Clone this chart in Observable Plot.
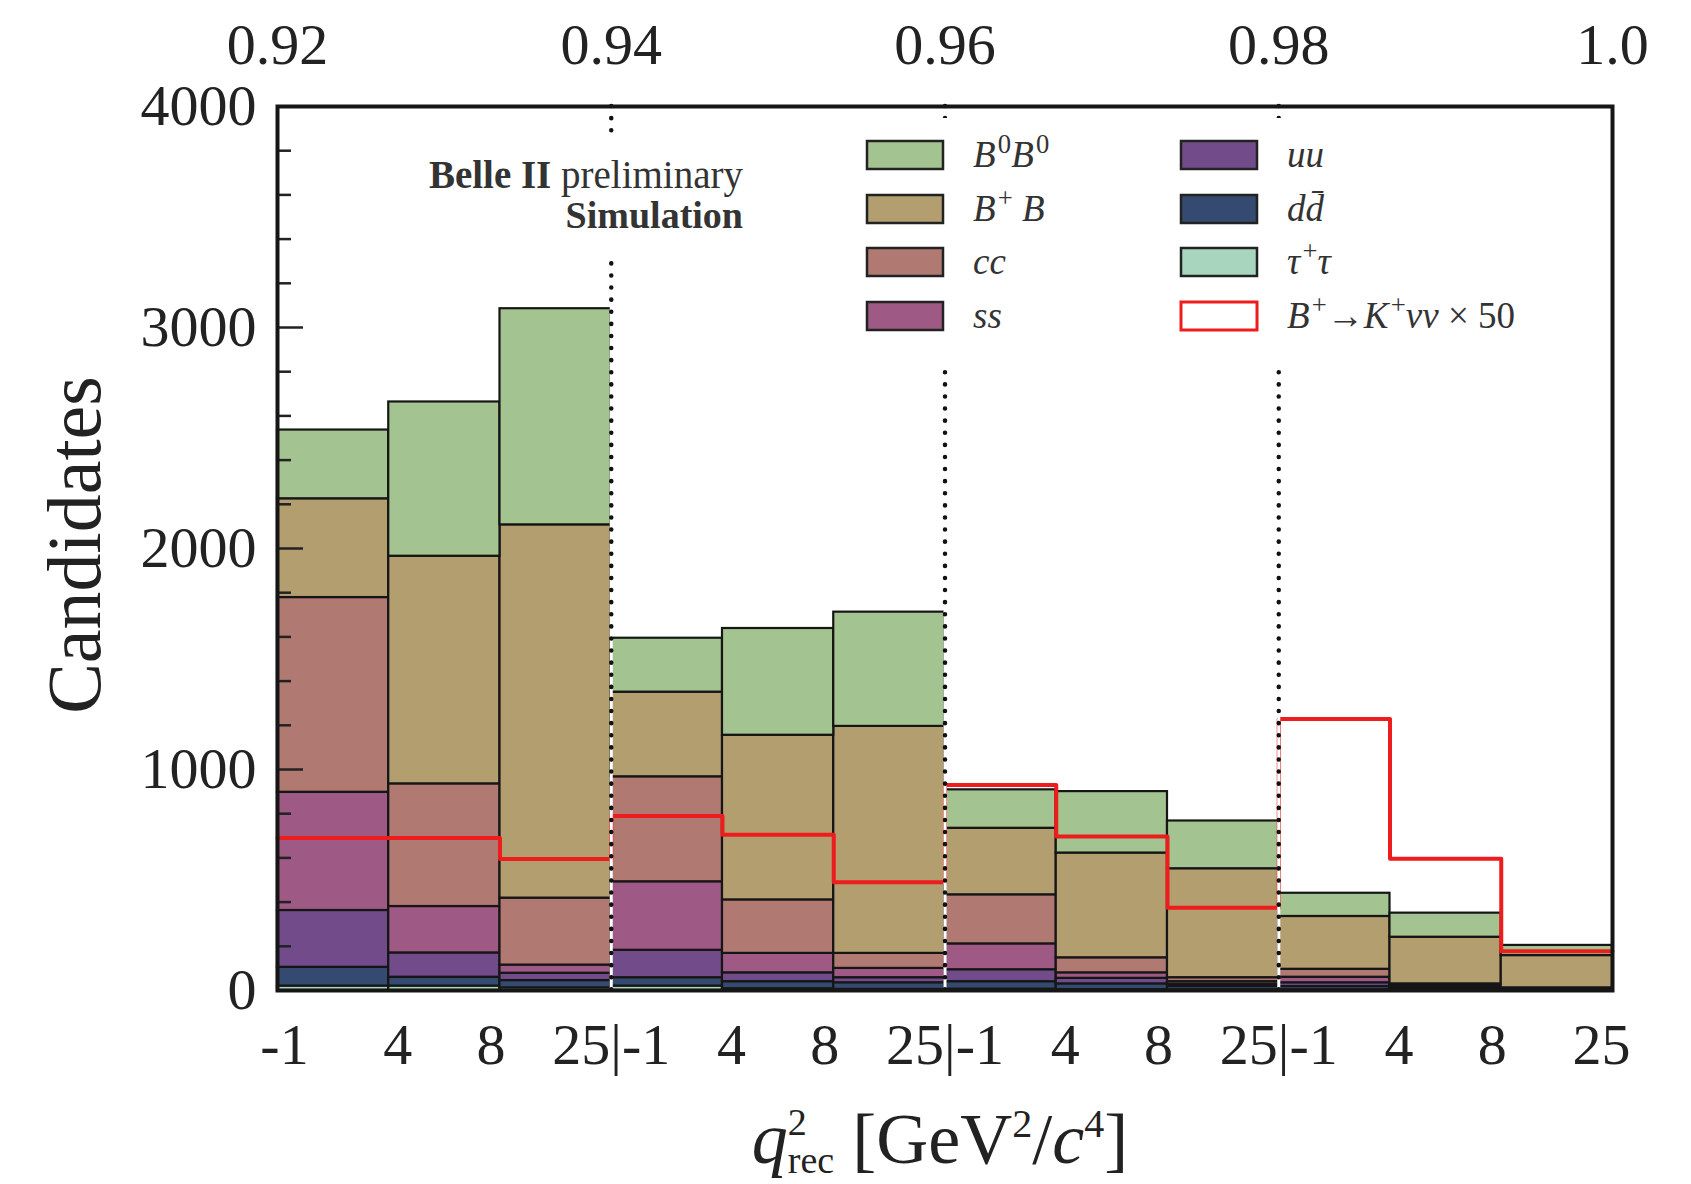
<!DOCTYPE html>
<html><head><meta charset="utf-8">
<script src="https://cdn.jsdelivr.net/npm/d3@7"></script>
<script src="https://cdn.jsdelivr.net/npm/@observablehq/plot@0.6"></script>
<style>body{margin:0;background:#fff} svg{display:block}</style>
</head><body><div id="chart"></div>
<script>
// ---- data ----
const groupLabels = ["0.92", "0.94", "0.96", "0.98", "1.0"];   // top axis (BDT cut)
const q2Labels = ["-1", "4", "8", "25"];                        // q² bin edges per group
const binsPerGroup = 3;
const nBins = 12;

// component counts per bin (not cumulative), bottom of stack first
const tautau = [20, 20, 12, 20, 8, 5, 6, 4, 3, 3, 2, 2];
const ddbar  = [85, 40, 33, 38, 32, 30, 34, 26, 15, 15, 7, 2];
const uubar  = [257, 110, 33, 124, 40, 23, 54, 25, 10, 17, 6, 3];
const ssbar  = [535, 210, 37, 310, 88, 42, 117, 25, 12, 25, 5, 3];
const ccbar  = [881, 555, 303, 475, 242, 68, 222, 68, 18, 36, 10, 2];
const bcharged = [447, 1030, 1689, 383, 745, 1027, 301, 474, 493, 239, 211, 146];
const bneutral = [311, 698, 978, 244, 483, 517, 174, 278, 216, 105, 109, 46];
const signalX50 = [690, 690, 595, 790, 705, 490, 930, 697, 375, 1228, 596, 178];

const comps  = ["tautau", "dd", "uu", "ss", "cc", "BpBm", "B0B0"];
const series = [tautau, ddbar, uubar, ssbar, ccbar, bcharged, bneutral];
const colors = ["#a8d5bd", "#354a70", "#724c8a", "#9e5a84", "#b07a72", "#b39e70", "#a3c490"];

const yMajor = [0, 1000, 2000, 3000, 4000];
const yMinor = d3.range(0, 4001, 200).filter(v => v % 1000 !== 0);

// ---- derived tables ----
const rows = comps.flatMap((c, k) => series[k].map((v, i) => ({comp: c, x1: i, x2: i + 1, value: v})));
const signalPts = signalX50.map((v, i) => ({x: i, y: v})).concat([{x: nBins, y: signalX50[nBins - 1]}]);
const groupEdges = d3.range(binsPerGroup, nBins, binsPerGroup);
const topTicks = groupLabels.map((t, g) => ({x: g * binsPerGroup, t}));
const edges = d3.range(0, nBins + 1);
const edgeLabel = e => {
  const r = e % binsPerGroup;
  if (r === 0) return e === 0 ? q2Labels[0] : e === nBins ? q2Labels[3] : q2Labels[3] + "|" + q2Labels[0];
  return q2Labels[r];
};
const botTicks = edges.map(e => ({x: e, t: edgeLabel(e), r: e % binsPerGroup}));

const W = 1691, H = 1184;
const FONT = "'Liberation Serif', 'DejaVu Serif', serif";
const frameW = W - 277 - 79;

const txt = {fill: "#222", fontSize: 58, fontFamily: FONT, lineAnchor: "middle"};
const bot = {x: "x", text: "t", frameAnchor: "bottom", dy: 55, ...txt};

const svg = Plot.plot({
  width: W, height: H,
  marginLeft: 277, marginRight: 79, marginTop: 106, marginBottom: 194,
  style: {fontFamily: FONT, background: "white", color: "#222"},
  x: {domain: [0, nBins], axis: null},
  y: {domain: [0, 4000], axis: null},
  color: {domain: comps, range: colors},
  marks: [
    Plot.rectY(rows, {x1: "x1", x2: "x2", y: "value", fill: "comp", order: comps, stroke: "#161616", strokeWidth: 2.2}),
    Plot.line(signalPts, {x: "x", y: "y", curve: "step-after", stroke: "#ee1d1d", strokeWidth: 4}),
    Plot.ruleX(groupEdges, {stroke: "white", strokeWidth: 3}),
    Plot.ruleX(groupEdges, {stroke: "#111", strokeWidth: 4.5, strokeDasharray: "0.1 12", strokeLinecap: "round"}),
    Plot.ruleY(yMajor, {stroke: "#222", strokeWidth: 2.5, insetRight: frameW - 26}),
    Plot.ruleY(yMinor, {stroke: "#222", strokeWidth: 2.5, insetRight: frameW - 14}),
    Plot.text(yMajor, {y: d => d, text: d => String(d), frameAnchor: "left", dx: -21, textAnchor: "end", ...txt}),
    Plot.text(topTicks, {x: "x", text: "t", frameAnchor: "top", dy: -61, ...txt}),
    Plot.text(botTicks.filter(d => d.r === 0 && d.x > 0 && d.x < nBins), bot),
    Plot.text(botTicks.filter(d => d.x === 0), {...bot, dx: 7}),
    Plot.text(botTicks.filter(d => d.x === nBins), {...bot, dx: -11}),
    Plot.text(botTicks.filter(d => d.r === 1), {...bot, dx: 9}),
    Plot.text(botTicks.filter(d => d.r === 2), {...bot, dx: -9}),
    Plot.frame({stroke: "#161616", strokeWidth: 4})
  ]
});

const s = d3.select(svg);

// helper: text made of parts [string, style]
function richText(g, x, y, parts, size, anchor, supRatio) {
  const r = supRatio || 0.62;
  const t = g.append("text").attr("x", x).attr("y", y).attr("font-family", FONT)
    .attr("font-size", size).attr("fill", "#333").attr("text-anchor", anchor || "start");
  let shift = 0;
  for (const [str, st] of parts) {
    const sp = t.append("tspan").text(str);
    let target = 0, fs = size;
    if (st.includes("sup")) { target = -size * 0.38; fs = size * r; sp.attr("dx", size * 0.06); }
    sp.attr("dy", target - shift).attr("font-size", fs);
    shift = target;
    if (st.includes("i")) sp.attr("font-style", "italic");
    if (st.includes("b")) sp.attr("font-weight", "bold");
  }
  return t;
}

// annotation box
const ann = s.append("g");
ann.append("rect").attr("x", 400).attr("y", 140).attr("width", 360).attr("height", 118).attr("fill", "white");
richText(ann, 743, 188, [["Belle II", "b"], [" preliminary", ""]], 39, "end");
richText(ann, 743, 228, [["Simulation", "b"]], 38, "end");

// legend
const lg = s.append("g");
lg.append("rect").attr("x", 852).attr("y", 118).attr("width", 742).attr("height", 247).attr("fill", "white");
const legendItems = [
  {c: "B0B0", parts: [["B", "i"], ["0", "sup"], ["B", "i"], ["0", "sup"]]},
  {c: "BpBm", parts: [["B", "i"], ["+", "sup"], [" B", "i"]]},
  {c: "cc", parts: [["cc", "i"]]},
  {c: "ss", parts: [["ss", "i"]]},
  {c: "uu", parts: [["uu", "i"]]},
  {c: "dd", parts: [["dd\u0304", "i"]]},
  {c: "tautau", parts: [["τ", "i"], ["+", "sup"], ["τ", "i"]]},
  {c: "signal", parts: [["B", "i"], ["+", "sup"], ["→", ""], ["K", "i"], ["+", "sup"], ["νν", "i"], [" × 50", ""]]}
];
const rowY = [155, 209, 262, 316];
const colX = [867, 1181];
legendItems.forEach((it, k) => {
  const col = Math.floor(k / 4), row = k % 4;
  const x = colX[col], y = rowY[row];
  const isSig = it.c === "signal";
  lg.append("rect").attr("x", x).attr("y", y - 14).attr("width", 76).attr("height", 28)
    .attr("fill", isSig ? "white" : colors[comps.indexOf(it.c)])
    .attr("stroke", isSig ? "#ee1d1d" : "#222").attr("stroke-width", isSig ? 3 : 2.5);
  richText(lg, x + 106, y + 12, it.parts, 37, "start", 0.72);
});

// axis titles
s.append("text").attr("transform", "translate(100,545) rotate(-90)").attr("text-anchor", "middle")
  .attr("font-family", FONT).attr("font-size", 76).attr("fill", "#222").text("Candidates");

const xl = s.append("text").attr("x", 940).attr("y", 1163).attr("text-anchor", "middle")
  .attr("font-family", FONT).attr("font-size", 72).attr("fill", "#222");
xl.append("tspan").attr("font-style", "italic").text("q");
xl.append("tspan").attr("font-size", 38).attr("dy", -28).text("2");
xl.append("tspan").attr("font-size", 38).attr("dx", -19).attr("dy", 38).text("rec");
xl.append("tspan").attr("dy", -10).text(" [GeV");
xl.append("tspan").attr("font-size", 40).attr("dy", -26).text("2");
xl.append("tspan").attr("dy", 26).text("/");
xl.append("tspan").attr("font-style", "italic").text("c");
xl.append("tspan").attr("font-size", 40).attr("dy", -26).text("4");
xl.append("tspan").attr("dy", 26).text("]");

document.getElementById("chart").appendChild(svg);
</script></body></html>
